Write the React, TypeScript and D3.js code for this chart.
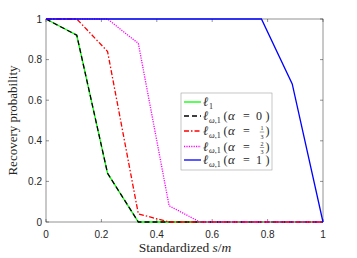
import React from 'react';
import * as d3 from 'd3';

// standardized s/m grid (k/9)
const xs = [0, 1 / 9, 2 / 9, 3 / 9, 4 / 9, 5 / 9, 6 / 9, 7 / 9, 8 / 9, 1];
const l1 = [1, 0.92, 0.24, 0, 0, 0, 0, 0, 0, 0];
const lw0 = [1, 0.92, 0.24, 0, 0, 0, 0, 0, 0, 0];
const lwThird = [1, 1, 0.84, 0.04, 0, 0, 0, 0, 0, 0];
const lwTwoThirds = [1, 1, 1, 0.88, 0.08, 0, 0, 0, 0, 0];
const lwOne = [1, 1, 1, 1, 1, 1, 1, 1, 0.68, 0];
const xTicks = [0, 0.2, 0.4, 0.6, 0.8, 1];
const yTicks = [0, 0.2, 0.4, 0.6, 0.8, 1];
const alphaLabels = ['0', '1/3', '2/3', '1'];

const series = [
  { values: l1, color: '#00ff00', dash: '' },
  { values: lw0, color: '#000000', dash: '5,3' },
  { values: lwThird, color: '#ff0000', dash: '5,2,1.5,2' },
  { values: lwTwoThirds, color: '#ff00ff', dash: '1.2,1.2' },
  { values: lwOne, color: '#0000ff', dash: '' },
];

const W = 357;
const H = 258;
const left = 46;
const right = 323;
const top = 19;
const bottom = 222;

export default function App() {
  const x = d3.scaleLinear().domain([0, 1]).range([left, right]);
  const y = d3.scaleLinear().domain([0, 1]).range([bottom, top]);
  const line = d3
    .line<number>()
    .x((_, i) => x(xs[i]))
    .y((d) => y(d));

  const serif = '"Liberation Serif", "DejaVu Serif", serif';
  const sans = '"Liberation Sans", Arial, sans-serif';
  const legX = 181;
  const legY = 93;
  const rows = [102, 116, 131, 146.5, 160];

  const ellLabel = (ry: number) => (
    <>
      <text x={203} y={ry + 4} fontStyle="italic" fontSize={13}>ℓ</text>
      <text x={209} y={ry + 6.5} fontSize={8}>
        <tspan fontStyle="italic">ω</tspan>,1
      </text>
    </>
  );

  const alphaLabel = (ry: number, val: string) => {
    const parts = val.split('/');
    return (
      <>
        <text x={223.5} y={ry + 4}>(</text>
        <text x={228} y={ry + 4} fontStyle="italic" fontSize={13}>α</text>
        <text x={246.5} y={ry + 4} textAnchor="middle">=</text>
        {parts.length === 1 ? (
          <text x={259} y={ry + 4} textAnchor="middle">{val}</text>
        ) : (
          <g fontSize={6} textAnchor="middle">
            <text x={262} y={ry - 1}>{parts[0]}</text>
            <line x1={259.8} x2={264.2} y1={ry + 1} y2={ry + 1} stroke="#262626" strokeWidth={0.45} />
            <text x={262} y={ry + 7.5}>{parts[1]}</text>
          </g>
        )}
        <text x={265.5} y={ry + 4}>)</text>
      </>
    );
  };

  return (
    <svg width={W} height={H} style={{ position: 'absolute', left: 0, top: 0 }}>
      <rect width={W} height={H} fill="#fff" />
      {/* axes box */}
      <rect x={left} y={top} width={right - left} height={bottom - top} fill="none" stroke="#262626" strokeWidth={0.5} />
      {xTicks.map((t) => (
        <g key={'x' + t}>
          <line x1={x(t)} x2={x(t)} y1={bottom} y2={bottom - 3} stroke="#262626" strokeWidth={0.5} />
          <line x1={x(t)} x2={x(t)} y1={top} y2={top + 3} stroke="#262626" strokeWidth={0.5} />
          <text x={x(t)} y={bottom + 16} textAnchor="middle" fontFamily={sans} fontSize={10} fill="#262626">
            {String(t)}
          </text>
        </g>
      ))}
      {yTicks.map((t) => (
        <g key={'y' + t}>
          <line x1={left} x2={left + 3} y1={y(t)} y2={y(t)} stroke="#262626" strokeWidth={0.5} />
          <line x1={right} x2={right - 3} y1={y(t)} y2={y(t)} stroke="#262626" strokeWidth={0.5} />
          <text x={left - 4} y={y(t) + 3.5} textAnchor="end" fontFamily={sans} fontSize={10} fill="#262626">
            {String(t)}
          </text>
        </g>
      ))}
      {/* series */}
      {series.map((s, i) => (
        <path
          key={i}
          d={line(s.values) || ''}
          fill="none"
          stroke={s.color}
          strokeWidth={1.3}
          strokeDasharray={s.dash || undefined}
        />
      ))}
      {/* axis labels */}
      <text x={185} y={252} textAnchor="middle" fontFamily={serif} fontSize={13.5} fill="#262626">
        Standardized <tspan fontStyle="italic">s</tspan>/<tspan fontStyle="italic">m</tspan>
      </text>
      <text
        transform={`translate(17,${(top + bottom) / 2}) rotate(-90)`}
        textAnchor="middle"
        fontFamily={serif}
        fontSize={13}
        fill="#262626"
      >
        Recovery probability
      </text>
      {/* legend */}
      <rect x={legX} y={legY} width={91} height={77} fill="#fff" stroke="#a0a0a0" strokeWidth={0.6} />
      {series.map((s, i) => (
        <line
          key={'leg' + i}
          x1={184}
          x2={201}
          y1={rows[i]}
          y2={rows[i]}
          stroke={s.color}
          strokeWidth={1.3}
          strokeDasharray={s.dash || undefined}
        />
      ))}
      <g fontFamily={serif} fontSize={12} fill="#262626">
        <text x={203} y={rows[0] + 4} fontStyle="italic" fontSize={13}>ℓ</text>
        <text x={209} y={rows[0] + 6.5} fontSize={8}>1</text>
        {alphaLabels.map((a, i) => (
          <g key={'al' + i}>
            {ellLabel(rows[i + 1])}
            {alphaLabel(rows[i + 1], a)}
          </g>
        ))}
      </g>
    </svg>
  );
}
